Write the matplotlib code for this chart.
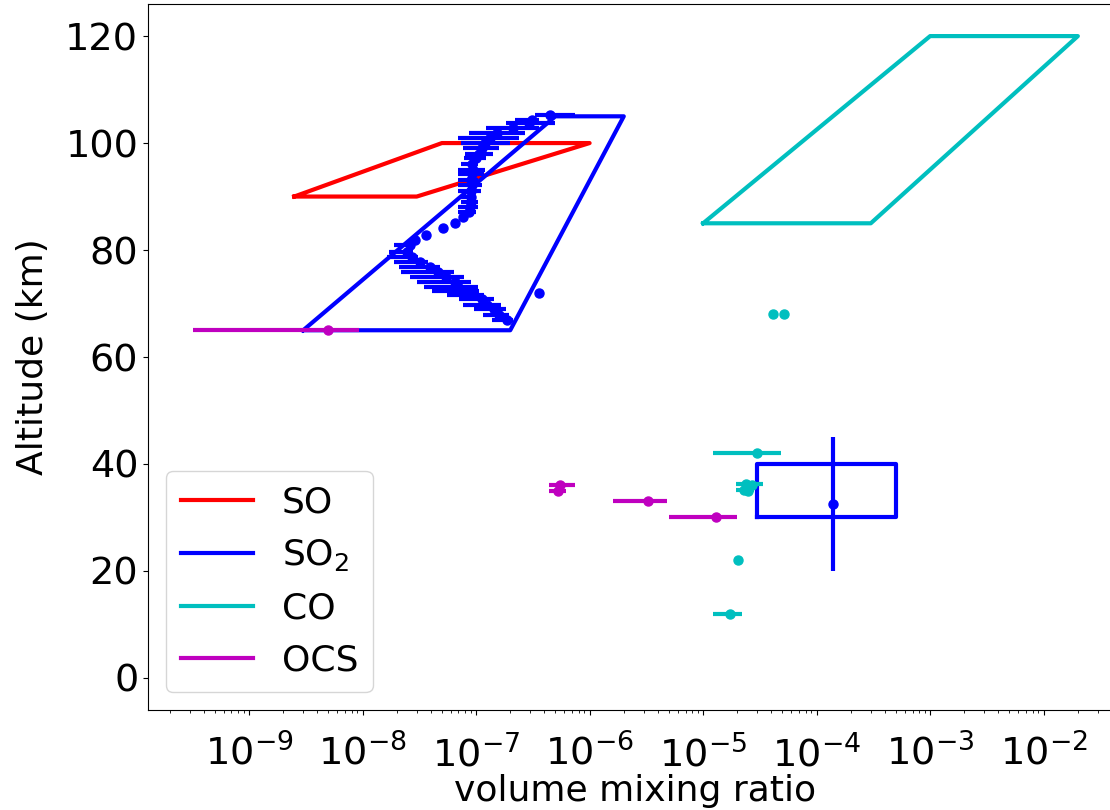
import numpy as np
import matplotlib
matplotlib.use("Agg")
import matplotlib.pyplot as plt
from matplotlib.ticker import LogLocator, NullFormatter
from matplotlib.lines import Line2D

# ---- polygons (vmr, altitude) ----
so_poly_x = [2.5e-9, 3e-8, 1e-6, 5e-8, 2.5e-9]
so_poly_y = [90, 90, 100, 100, 90]
so2_poly_x = [3e-9, 2e-7, 2e-6, 5e-7, 3e-9]
so2_poly_y = [65, 65, 105, 105, 65]
co_poly_x = [1e-5, 3e-4, 2e-2, 1e-3, 1e-5]
co_poly_y = [85, 85, 120, 120, 85]
so2_box_x = [3e-5, 5e-4, 5e-4, 3e-5, 3e-5]
so2_box_y = [30, 30, 40, 40, 30]

# ---- SO2 profile (altitude, centre, left end, right end) ----
so2_alt = [66.9, 67.9, 68.9, 69.8, 70.8, 71.6, 72.3, 73.1, 74.1, 75.0, 75.9, 76.9,
           77.8, 78.7, 79.7, 80.9, 81.9, 82.8, 84.1, 85.0, 86.2, 87.1, 88.1, 89.0,
           89.9, 91.0, 92.1, 93.1, 94.2, 95.0, 96.0, 97.2, 97.9, 99.0, 100.0, 101.0,
           101.9, 102.8, 103.7, 104.3, 105.3]
so2_vmr = [1.87e-7, 1.60e-7, 1.45e-7, 1.26e-7, 1.13e-7, 9.5e-8, 8.3e-8, 7.0e-8, 6.5e-8,
           5.4e-8, 4.6e-8, 3.9e-8, 3.2e-8, 2.7e-8, 2.45e-8, 2.6e-8, 2.9e-8, 3.6e-8,
           5.1e-8, 6.5e-8, 7.6e-8, 8.6e-8, 8.8e-8, 9.0e-8, 9.0e-8, 9.0e-8, 9.2e-8,
           9.0e-8, 9.2e-8, 9.4e-8, 9.2e-8, 1.0e-7, 1.07e-7, 1.12e-7, 1.19e-7, 1.32e-7,
           1.53e-7, 2.1e-7, 2.9e-7, 3.1e-7, 4.5e-7]
so2_lo = [1.38e-7, 1.16e-7, 9.5e-8, 7.6e-8, 7.1e-8, 5.6e-8, 4.1e-8, 3.5e-8, 3.0e-8,
          2.6e-8, 2.2e-8, 2.1e-8, 1.9e-8, 1.65e-8, 1.7e-8, 1.9e-8, 2.9e-8, 3.6e-8,
          5.1e-8, 6.5e-8, 7.6e-8, 7.0e-8, 7.0e-8, 7.4e-8, 7.4e-8, 7.0e-8, 6.9e-8,
          7.0e-8, 6.9e-8, 7.0e-8, 7.4e-8, 7.8e-8, 8.0e-8, 7.6e-8, 7.4e-8, 7.0e-8,
          8.7e-8, 1.23e-7, 1.85e-7, 2.2e-7, 3.3e-7]
so2_hi = [2.12e-7, 1.94e-7, 1.85e-7, 1.65e-7, 1.45e-7, 1.18e-7, 1.07e-7, 1.05e-7, 9.0e-8,
          7.8e-8, 6.4e-8, 4.8e-8, 3.8e-8, 3.1e-8, 2.8e-8, 2.9e-8, 2.9e-8, 3.6e-8,
          5.1e-8, 6.5e-8, 7.6e-8, 1.0e-7, 1.05e-7, 1.05e-7, 1.0e-7, 1.1e-7, 1.12e-7,
          1.05e-7, 1.17e-7, 1.2e-7, 1.05e-7, 1.22e-7, 1.4e-7, 1.6e-7, 2.0e-7, 2.4e-7,
          2.7e-7, 3.6e-7, 5.0e-7, 3.6e-7, 7.4e-7]
so2_single_x = [3.6e-7]
so2_single_y = [72.0]
so2_eb_x = [1.4e-4]
so2_eb_y = [32.5]
so2_eb_yerr = [12.5]

# ---- CO points ----
co_x = [3.0e-5, 2.4e-5, 2.7e-5, 2.3e-5, 2.5e-5, 2.04e-5, 1.74e-5, 4.1e-5, 5.2e-5]
co_y = [42.0, 36.2, 36.0, 35.2, 35.0, 22.0, 12.0, 68.0, 68.0]
co_lo = [1.23e-5, 1.95e-5, 2.2e-5, 1.95e-5, 2.2e-5, 1.9e-5, 1.23e-5, 4.1e-5, 5.2e-5]
co_hi = [4.9e-5, 3.4e-5, 3.0e-5, 2.8e-5, 2.7e-5, 2.2e-5, 2.2e-5, 4.1e-5, 5.2e-5]

# ---- OCS points ----
ocs_x = [5.0e-9, 5.5e-7, 5.3e-7, 3.3e-6, 1.29e-5]
ocs_y = [65.0, 36.1, 35.0, 33.1, 30.1]
ocs_lo = [3.2e-10, 4.4e-7, 4.4e-7, 1.6e-6, 5.0e-6]
ocs_hi = [9.3e-9, 7.4e-7, 6.2e-7, 4.8e-6, 2.0e-5]

x_ticks = [1e-9, 1e-8, 1e-7, 1e-6, 1e-5, 1e-4, 1e-3, 1e-2]
y_ticks = [0, 20, 40, 60, 80, 100, 120]
legend_labels = ["SO", "SO$_2$", "CO", "OCS"]
colors = ["r", "b", "c", "m"]

TICK_FS = 27.5
LABEL_FS = 26
LEG_FS = 26
fig = plt.figure(figsize=(11.1, 8.1), dpi=100)
ax = fig.add_axes([148/1110, 100/810, (1122-148)/1110, 706/810])

lw = 3
ms = 6.5

ax.plot(so_poly_x, so_poly_y, color="r", lw=lw)
ax.plot(so2_poly_x, so2_poly_y, color="b", lw=lw)
ax.plot(so2_box_x, so2_box_y, color="b", lw=lw)

sx = np.array(so2_vmr)
ax.errorbar(sx, so2_alt, xerr=[sx - np.array(so2_lo), np.array(so2_hi) - sx],
            fmt="o", color="b", ms=ms, elinewidth=lw, capsize=0, ls="none")
ax.plot(so2_single_x, so2_single_y, "o", color="b", ms=ms)
ax.errorbar(so2_eb_x, so2_eb_y, yerr=so2_eb_yerr, fmt="o", color="b", ms=ms,
            elinewidth=lw, capsize=0)

ax.plot(co_poly_x, co_poly_y, color="c", lw=lw)
cx = np.array(co_x)
ax.errorbar(cx, co_y, xerr=[cx - np.array(co_lo), np.array(co_hi) - cx],
            fmt="o", color="c", ms=ms, elinewidth=lw, capsize=0, ls="none")

ox = np.array(ocs_x)
ax.errorbar(ox, ocs_y, xerr=[ox - np.array(ocs_lo), np.array(ocs_hi) - ox],
            fmt="o", color="m", ms=ms, elinewidth=lw, capsize=0, ls="none")

ax.set_xscale("log")
ax.set_xlim(10**-9.89, 10**-1.31)
ax.set_ylim(-6, 126)
ax.set_xticks(x_ticks)
ax.xaxis.set_minor_locator(LogLocator(base=10, subs=np.arange(2, 10), numticks=20))
ax.xaxis.set_minor_formatter(NullFormatter())
ax.set_yticks(y_ticks)
ax.tick_params(labelsize=TICK_FS)
ax.tick_params(axis="x", which="major", pad=14)

ax.set_xlabel("volume mixing ratio", fontsize=LABEL_FS, labelpad=0)
ax.set_ylabel("Altitude (km)", fontsize=LABEL_FS, labelpad=11)

handles = [Line2D([], [], color=c, lw=lw) for c in colors]
ax.legend(handles, legend_labels, loc="lower left", fontsize=LEG_FS)

fig.savefig("out.png", dpi=100)
